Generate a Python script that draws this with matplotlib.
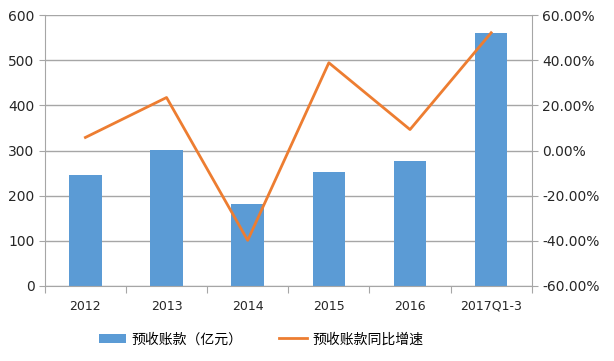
import matplotlib
matplotlib.use("Agg")
import matplotlib.pyplot as plt
import numpy as np
from matplotlib.ticker import FuncFormatter

plt.rcParams['font.family'] = ['DejaVu Sans', 'Noto Sans CJK SC']

categories = ["2012", "2013", "2014", "2015", "2016", "2017Q1-3"]
advance = [245, 301, 181, 252, 277, 560]
growth = [5.8, 23.5, -39.8, 38.9, 9.3, 52.2]
bar_label = "预收账款（亿元）"
line_label = "预收账款同比增速"

fig = plt.figure(figsize=(6.14, 3.61), dpi=100)
ax = fig.add_axes([0.073, 0.208, 0.793, 0.75])
x = np.arange(len(categories))
bars = ax.bar(x, advance, width=0.4, color="#5B9BD5", label=bar_label, zorder=2)
ax.set_xlim(-0.5, len(categories) - 0.5)
ax.set_ylim(0, 600)
ax.set_yticks(range(0, 601, 100))
ax.grid(axis="y", color="#A6A6A6", linewidth=1, zorder=0)
ax.set_axisbelow(True)
for s in ["top", "right"]:
    ax.spines[s].set_visible(False)
ax.spines["left"].set_color("#A6A6A6")
ax.spines["bottom"].set_color("#A6A6A6")
ax.set_xticks(np.arange(-0.5, len(categories), 1.0), minor=False)
ax.set_xticklabels([])
ax.set_xticks(x, minor=True)
ax.set_xticklabels(categories, minor=True)
ax.tick_params(axis="x", which="major", length=5, color="#A6A6A6")
ax.tick_params(axis="x", which="minor", length=0, pad=10, labelsize=9, labelcolor="#262626")
ax.tick_params(axis="y", length=4, color="#A6A6A6", labelsize=10, labelcolor="#262626")

ax2 = ax.twinx()
line, = ax2.plot(x, growth, color="#ED7D31", linewidth=2, label=line_label, zorder=3)
ax2.set_ylim(-60, 60)
ax2.set_yticks(range(-60, 61, 20))
ax2.yaxis.set_major_formatter(FuncFormatter(lambda v, p: f"{v:.2f}%"))
for s in ["top", "left", "bottom"]:
    ax2.spines[s].set_visible(False)
ax2.spines["right"].set_color("#A6A6A6")
ax2.tick_params(axis="y", length=4, color="#A6A6A6", labelsize=10, labelcolor="#262626")

fig.legend([bars, line], [bar_label, line_label], loc="center", bbox_to_anchor=(0.425, 0.06),
           ncol=2, frameon=False, prop={'family': ['Noto Sans CJK SC', 'DejaVu Sans'], 'size': 10},
           handlelength=2.0, handletextpad=0.4, columnspacing=2.6, handleheight=0.7)

fig.savefig("out.png", dpi=100)
